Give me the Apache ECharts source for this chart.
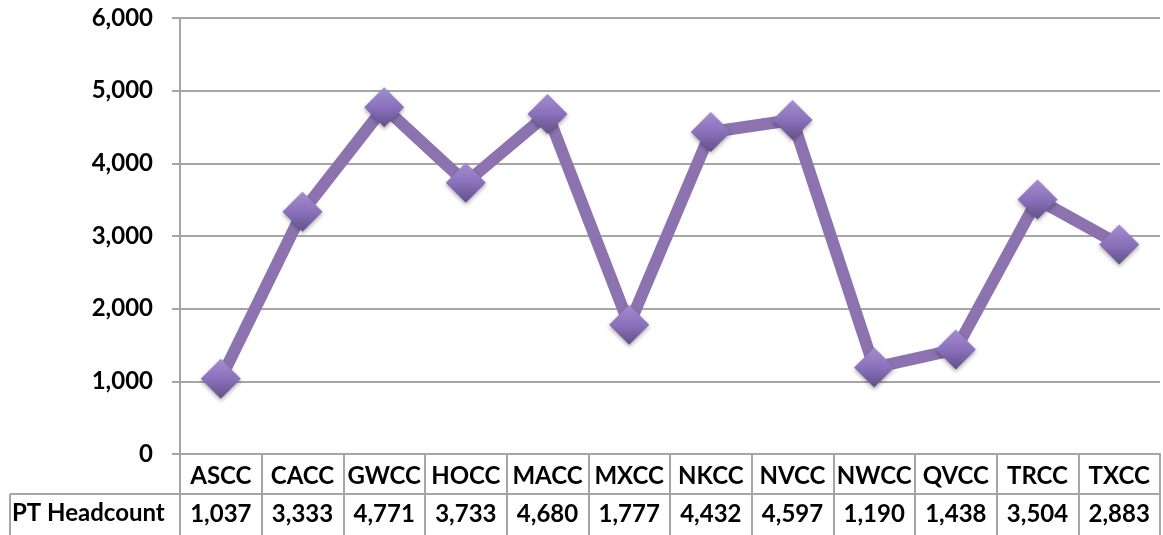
<!DOCTYPE html>
<html>
<head>
<meta charset="utf-8">
<script src="https://cdn.jsdelivr.net/npm/echarts@6/dist/echarts.min.js"></script>
<style>
html,body{margin:0;padding:0;background:#fff;}
#c{width:1163px;height:535px;}
</style>
</head>
<body>
<div id="c"></div>
<script>
const categories = ['ASCC','CACC','GWCC','HOCC','MACC','MXCC','NKCC','NVCC','NWCC','QVCC','TRCC','TXCC'];
const headcount = [1037,3333,4771,3733,4680,1777,4432,4597,1190,1438,3504,2883];
const seriesName = 'PT Headcount';
const yTicks = [0,1000,2000,3000,4000,5000,6000];

const fmt = v => Number(v).toLocaleString('en-US');
const FONT = 'Lato';
const FS = 24;
const GRAY = '#A6A6A6';

const chart = echarts.init(document.getElementById('c'), null, {renderer:'canvas'});
chart.setOption({
  animation:false,
  backgroundColor:'#ffffff',
  grid:{left:180, right:3, top:18, bottom:81, containLabel:false},
  xAxis:[{
    type:'category',
    data:categories,
    boundaryGap:true,
    position:'bottom',
    axisLine:{show:true, lineStyle:{color:GRAY, width:2}},
    axisTick:{show:true, interval:0, length:81, lineStyle:{color:GRAY, width:2}},
    axisLabel:{interval:0, margin:10, color:'#000', fontFamily:FONT, fontWeight:'bold', fontSize:FS},
    splitLine:{show:false}
  },{
    type:'category',
    data:categories,
    boundaryGap:true,
    position:'bottom',
    offset:40,
    axisLine:{show:true, lineStyle:{color:GRAY, width:2}},
    axisTick:{show:false},
    axisLabel:{interval:0, margin:8, color:'#000', fontFamily:FONT, fontWeight:'bold', fontSize:FS,
      formatter:(v,i)=>fmt(headcount[i])},
    splitLine:{show:false}
  }],
  yAxis:{
    type:'value',
    min:yTicks[0], max:yTicks[yTicks.length-1], interval:1000,
    axisLine:{show:true, lineStyle:{color:GRAY, width:2}},
    axisTick:{show:true, length:8, lineStyle:{color:GRAY, width:2}},
    axisLabel:{margin:27, color:'#000', fontFamily:FONT, fontWeight:'bold', fontSize:FS, formatter:v=>fmt(v)},
    splitLine:{show:true, lineStyle:{color:GRAY, width:2}}
  },
  graphic:[
    {type:'line', shape:{x1:10,y1:494,x2:180,y2:494}, style:{stroke:GRAY, lineWidth:2}},
    {type:'line', shape:{x1:10,y1:494,x2:10,y2:535}, style:{stroke:GRAY, lineWidth:2}},
    {type:'text', left:12, top:501, style:{text:seriesName, fill:'#000', font:'bold 24px Lato'}}
  ],
  series:[{
    name:seriesName,
    type:'line',
    xAxisIndex:0,
    data:headcount,
    symbol:'diamond',
    symbolSize:[40,40],
    lineStyle:{color:'#8C73B0', width:12},
    itemStyle:{
      color:new echarts.graphic.LinearGradient(0,0,0,1,[
        {offset:0, color:'#A38DCF'},
        {offset:0.5, color:'#8B70BB'},
        {offset:1, color:'#64508A'}
      ]),
      shadowBlur:4, shadowColor:'rgba(0,0,0,0.35)', shadowOffsetY:2
    },
    z:3
  }]
});
</script>
</body>
</html>
